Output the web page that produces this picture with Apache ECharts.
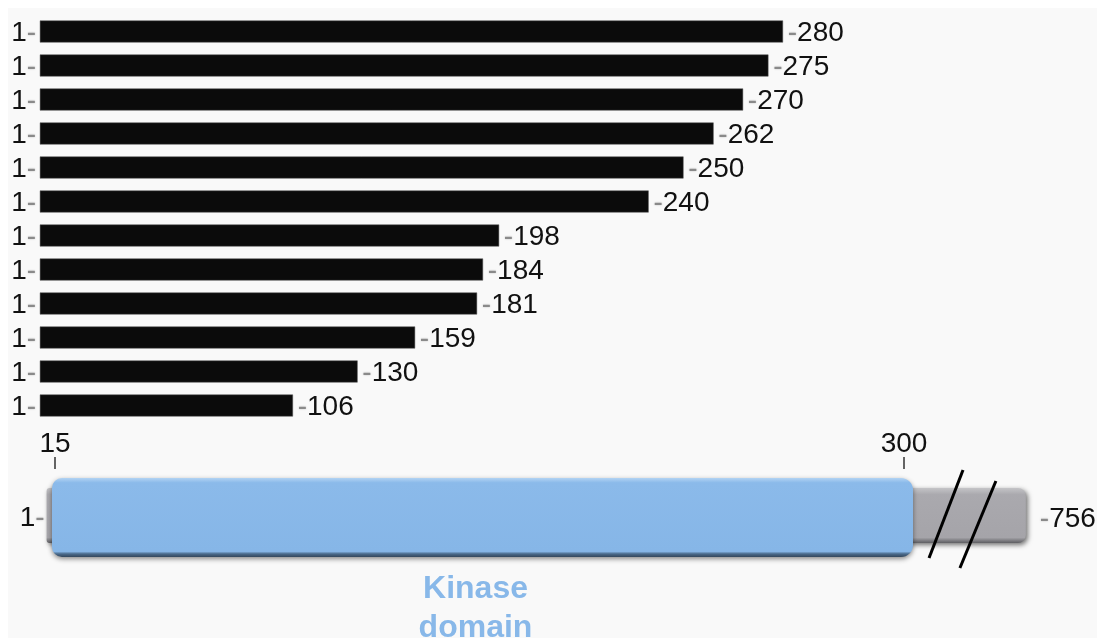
<!DOCTYPE html>
<html>
<head>
<meta charset="utf-8">
<style>
  html, body { margin: 0; padding: 0; background: #fff; }
  #chart { width: 1097px; height: 638px; }
</style>
<script src="https://cdn.jsdelivr.net/npm/echarts@6/dist/echarts.min.js"></script>
</head>
<body>
<div id="chart"></div>
<script>
// truncation constructs 1-N, the number printed at the end of each bar
const truncEnds = [280, 275, 270, 262, 250, 240, 198, 184, 181, 159, 130, 106]
// the figure is not drawn to scale: where each bar really ends on the schematic axis
const barDrawnEnds = [259.3, 254.4, 245.9, 236.0, 225.9, 214.2, 164.0, 158.6, 156.6, 135.8, 116.5, 94.8]
const barDrawnStart = 10

// full length protein, kinase domain and the axis break
const fullLength = 756
const proteinDrawn = [12.2, 340.9]
const kinaseDomain = [15, 300]
const domainTicks = [15, 300]
const breakMarks = [314.1, 324.8]

// schematic axis range (so that 15 and 300 land under the ticks)
const xMin = -3.46
const xMax = 364.78

const font = "'Liberation Sans', Arial, sans-serif"
const rich = {
  n: { fontSize: 28, fontFamily: font, fill: '#111', color: '#111' },
  d: { fontSize: 28, fontFamily: font, fill: '#8a8a8a', color: '#8a8a8a', textShadowColor: 'rgba(0,0,0,0.25)', textShadowBlur: 2 }
}

const barData = truncEnds.map((v, i) => [i, barDrawnStart, barDrawnEnds[i], v])

const chart = echarts.init(document.getElementById('chart'))

const option = {
  backgroundColor: '#fff',
  animation: false,
  graphic: [{
    type: 'rect',
    z: -10,
    shape: { x: 8, y: 8, width: 1089, height: 630 },
    style: { fill: '#f9f9f9' }
  }],
  grid: [
    { left: 0, right: 0, top: 14.5, height: 408 },
    { left: 0, right: 0, top: 469, height: 96 }
  ],
  xAxis: [
    { gridIndex: 0, type: 'value', min: xMin, max: xMax, show: false },
    {
      gridIndex: 1,
      type: 'value',
      min: xMin,
      max: xMax,
      position: 'top',
      axisLine: { show: true, lineStyle: { opacity: 0 } },
      splitLine: { show: false },
      axisTick: {
        show: true,
        customValues: domainTicks,
        length: 12,
        lineStyle: { color: '#333', width: 1.5 }
      },
      axisLabel: {
        customValues: domainTicks,
        fontSize: 28,
        fontFamily: font,
        color: '#111',
        margin: 11
      }
    }
  ],
  yAxis: [
    { gridIndex: 0, type: 'category', inverse: true, data: truncEnds.map(String), show: false },
    { gridIndex: 1, type: 'category', data: ['protein'], show: false }
  ],
  series: [
    {
      type: 'custom',
      xAxisIndex: 0,
      yAxisIndex: 0,
      encode: { x: [1, 2], y: 0 },
      data: barData,
      renderItem: (params, api) => {
        const idx = api.value(0)
        const start = api.coord([api.value(1), idx])
        const end = api.coord([api.value(2), idx])
        const h = 21.5
        return {
          type: 'group',
          children: [
            {
              type: 'rect',
              shape: { x: start[0], y: start[1] - h / 2, width: end[0] - start[0], height: h },
              style: { fill: '#0b0b0b', stroke: '#555', lineWidth: 0.5 }
            },
            {
              type: 'text',
              style: { x: start[0] - 4, y: start[1] + 1.5, text: '{n|1}{d|-}', rich: rich, align: 'right', verticalAlign: 'middle' }
            },
            {
              type: 'text',
              style: { x: end[0] + 5, y: end[1] + 1.5, text: '{d|-}{n|' + api.value(3) + '}', rich: rich, align: 'left', verticalAlign: 'middle' }
            }
          ]
        }
      }
    },
    {
      type: 'custom',
      xAxisIndex: 1,
      yAxisIndex: 1,
      data: [[0]],
      renderItem: (params, api) => {
        const c = api.coord([0, 0])[1]
        const gx0 = api.coord([proteinDrawn[0], 0])[0]
        const gx1 = api.coord([proteinDrawn[1], 0])[0]
        const kx0 = api.coord([kinaseDomain[0], 0])[0] - 3
        const kx1 = api.coord([kinaseDomain[1], 0])[0] + 9
        const kMid = api.coord([(kinaseDomain[0] + kinaseDomain[1]) / 2, 0])[0]
        const b0 = api.coord([breakMarks[0], 0])[0]
        const b1 = api.coord([breakMarks[1], 0])[0]
        return {
          type: 'group',
          children: [
            // grey full-length protein
            {
              type: 'rect',
              shape: { x: gx0, y: c - 29, width: gx1 - gx0, height: 55, r: [3, 8, 8, 3] },
              style: {
                fill: new echarts.graphic.LinearGradient(0, 0, 0, 1, [
                  { offset: 0, color: '#c4c4c7' },
                  { offset: 0.12, color: '#aaa9ae' },
                  { offset: 0.9, color: '#a5a4a9' },
                  { offset: 1, color: '#5e5e62' }
                ]),
                shadowBlur: 5,
                shadowColor: 'rgba(0,0,0,0.55)',
                shadowOffsetX: 2,
                shadowOffsetY: 2
              }
            },
            // kinase domain
            {
              type: 'rect',
              shape: { x: kx0, y: c - 39, width: kx1 - kx0, height: 79, r: [10, 12, 12, 10] },
              style: {
                fill: new echarts.graphic.LinearGradient(0, 0, 0, 1, [
                  { offset: 0, color: '#b2d3f3' },
                  { offset: 0.06, color: '#8bbaea' },
                  { offset: 0.93, color: '#86b6e7' },
                  { offset: 0.96, color: '#4b6b8c' },
                  { offset: 1, color: '#33475c' }
                ]),
                shadowBlur: 5,
                shadowColor: 'rgba(0,0,0,0.45)',
                shadowOffsetY: 2
              }
            },
            // axis break
            { type: 'line', shape: { x1: b0 + 17, y1: c - 47, x2: b0 - 17, y2: c + 41 }, style: { stroke: '#000', lineWidth: 3 } },
            { type: 'line', shape: { x1: b1 + 18, y1: c - 36, x2: b1 - 18, y2: c + 51 }, style: { stroke: '#000', lineWidth: 3 } },
            {
              type: 'text',
              style: { x: gx0 - 2, y: c + 1, text: '{n|1}{d|-}', rich: rich, align: 'right', verticalAlign: 'middle' }
            },
            {
              type: 'text',
              style: { x: gx1 + 14, y: c + 2, text: '{d|-}{n|' + fullLength + '}', rich: rich, align: 'left', verticalAlign: 'middle' }
            },
            {
              type: 'text',
              style: {
                x: kMid - 4,
                y: c + 53,
                text: 'Kinase\ndomain',
                fontSize: 32,
                fontWeight: 'bold',
                fontFamily: font,
                fill: '#88b8e9',
                lineHeight: 39,
                align: 'center',
                verticalAlign: 'top'
              }
            }
          ]
        }
      }
    }
  ]
}

chart.setOption(option)
window.addEventListener('resize', () => chart.resize())
</script>
</body>
</html>
